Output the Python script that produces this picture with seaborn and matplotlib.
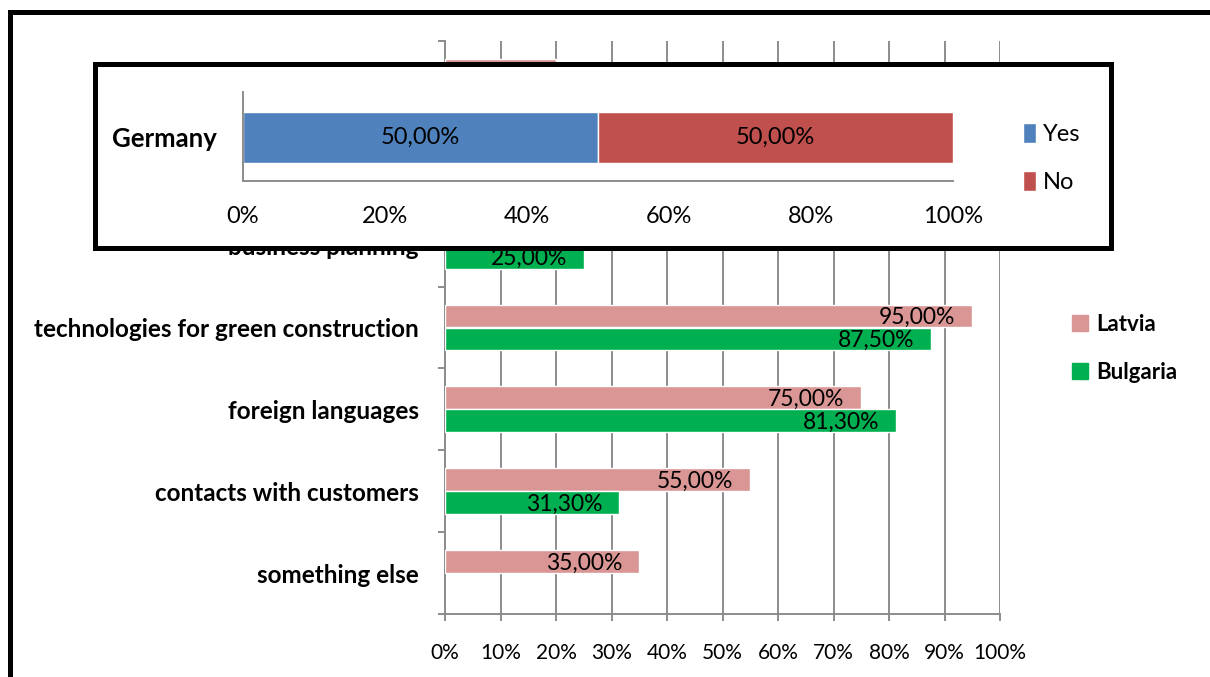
"""
Training needs survey - Latvia / Bulgaria bars with a Germany inset box
"""
import numpy as np
import pandas as pd
import matplotlib
matplotlib.use("Agg")
import matplotlib.pyplot as plt
from matplotlib.patches import Rectangle, Patch
from matplotlib.ticker import MultipleLocator, FixedLocator, PercentFormatter
import seaborn as sns

# %%
# Data (the two top rows sit under the inset box)
categories = ["management", "marketing", "business planning",
              "technologies for green construction", "foreign languages",
              "contacts with customers", "something else"]
latvia = [0.20, 0.30, 0.40, 0.95, 0.75, 0.55, 0.35]
bulgaria = [0.30, 0.20, 0.25, 0.875, 0.813, 0.313, np.nan]

germany_yes = [0.50]
germany_no = [0.50]

LATVIA_COLOR = "#D99694"
BULGARIA_COLOR = "#00B050"
YES_COLOR = "#4F81BD"
NO_COLOR = "#C0504D"
GRID_GRAY = "#8C8C8C"

sns.set_theme(style="white")
plt.rcParams["font.family"] = ["Lato", "DejaVu Sans"]
plt.rcParams["text.color"] = "black"
plt.rcParams["xtick.labelcolor"] = "black"
plt.rcParams["ytick.labelcolor"] = "black"

rows = []
for cat, lv, bg in zip(categories, latvia, bulgaria):
    rows.append({"category": cat, "country": "Latvia", "value": lv})
    if not np.isnan(bg):
        rows.append({"category": cat, "country": "Bulgaria", "value": bg})
df = pd.DataFrame(rows)

W, H = 1210, 677
fig = plt.figure(figsize=(W / 100, H / 100), dpi=100)

# %%
# Main chart
ax = fig.add_axes([445 / W, 1 - 614 / H, 555 / W, 573 / H])
sns.barplot(data=df, y="category", x="value", hue="country",
            order=categories, hue_order=["Latvia", "Bulgaria"],
            palette=[LATVIA_COLOR, BULGARIA_COLOR], width=0.56,
            saturation=1, orient="h", errorbar=None, ax=ax, legend=False,
            zorder=3)

ax.set_xlim(0, 1)
ax.set_ylim(len(categories) - 0.5, -0.5)
ax.xaxis.set_major_locator(MultipleLocator(0.1))
ax.xaxis.set_major_formatter(PercentFormatter(1.0, decimals=0))
ax.yaxis.set_minor_locator(FixedLocator(np.arange(-0.5, len(categories), 1)))
ax.grid(True, axis="x", color=GRID_GRAY, linewidth=1.4, zorder=0)
ax.set_axisbelow(True)
for side in ["top", "right"]:
    ax.spines[side].set_visible(False)
for side in ["left", "bottom"]:
    ax.spines[side].set_color(GRID_GRAY)
    ax.spines[side].set_linewidth(1.4)
ax.tick_params(axis="x", which="major", bottom=True, length=5, width=1.4,
               color=GRID_GRAY, labelsize=15, pad=16)
ax.tick_params(axis="y", which="major", left=False, length=0, pad=19,
               labelsize=17.5)
ax.tick_params(axis="y", which="minor", left=True, length=5, width=1.4,
               color=GRID_GRAY)
for lbl in ax.get_yticklabels():
    lbl.set_fontweight("bold")
ax.set_xlabel("")
ax.set_ylabel("")

for container in ax.containers:
    for bar in container:
        w = bar.get_width()
        if np.isnan(w):
            continue
        txt = f"{w * 100:.2f}%".replace(".", ",")
        ax.annotate(txt, (w, bar.get_y() + bar.get_height() / 2),
                    xytext=(-12, -1), textcoords="offset points",
                    ha="right", va="center", fontsize=16.5, color="black",
                    zorder=4)

main_handles = [Patch(color=LATVIA_COLOR, label="Latvia"),
                Patch(color=BULGARIA_COLOR, label="Bulgaria")]
fig.legend(handles=main_handles, loc="upper left",
           bbox_to_anchor=(1052 / W, 1 - 294 / H), frameon=False,
           handlelength=0.7, handleheight=0.7, handletextpad=0.4,
           labelspacing=1.2, prop={"weight": "bold", "size": 16})

# %%
# Outer frame (runs off the right and bottom edges)
fig.add_artist(Rectangle((9.5 / W, -0.5), 2.0, 0.5 + (1 - 11.5 / H),
                         transform=fig.transFigure, fill=False,
                         edgecolor="black", linewidth=3.6, zorder=1))

# Inset box with Germany
fig.add_artist(Rectangle((94.5 / W, 1 - 248 / H), 1016 / W, 184.5 / H,
                         transform=fig.transFigure, facecolor="white",
                         edgecolor="black", linewidth=3.6, zorder=5))

ax_in = fig.add_axes([243 / W, 1 - 181 / H, 710 / W, 89 / H], zorder=6)
ax_in.set_facecolor("none")
ax_in.barh(["Germany"], germany_yes, height=0.89, color=YES_COLOR, label="Yes")
ax_in.barh(["Germany"], germany_no, left=germany_yes, height=0.89,
           color=NO_COLOR, label="No")
ax_in.set_xlim(0, 1)
ax_in.set_ylim(-0.76, 0.79)
ax_in.xaxis.set_major_locator(MultipleLocator(0.2))
ax_in.xaxis.set_major_formatter(PercentFormatter(1.0, decimals=0))
for side in ["top", "right"]:
    ax_in.spines[side].set_visible(False)
for side in ["left", "bottom"]:
    ax_in.spines[side].set_color(GRID_GRAY)
    ax_in.spines[side].set_linewidth(1.4)
ax_in.tick_params(axis="x", length=0, pad=18, labelsize=17)
ax_in.tick_params(axis="y", length=0, pad=19, labelsize=18.5)
for lbl in ax_in.get_yticklabels():
    lbl.set_fontweight("bold")

for yes, no in zip(germany_yes, germany_no):
    ax_in.text(yes / 2, 0, f"{yes * 100:.2f}%".replace(".", ","),
               ha="center", va="center", fontsize=17, color="black")
    ax_in.text(yes + no / 2, 0, f"{no * 100:.2f}%".replace(".", ","),
               ha="center", va="center", fontsize=17, color="black")

ax_in.legend(loc="upper left", bbox_to_anchor=(1002 / W, 1 - 102 / H),
             bbox_transform=fig.transFigure, frameon=False,
             handlelength=0.55, handleheight=0.9, handletextpad=0.3,
             labelspacing=1.1, fontsize=17)

fig.savefig("out.png", dpi=100)
